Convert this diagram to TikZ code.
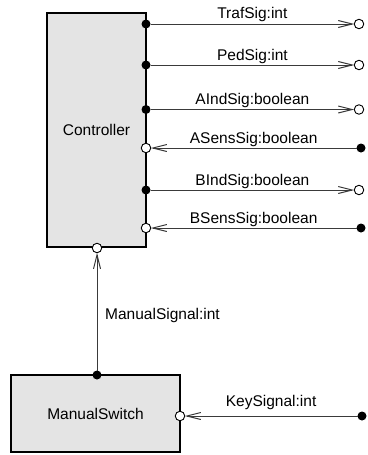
\documentclass[tikz,border=0pt]{standalone}
\usepackage{fontspec}
\setmainfont{Liberation Sans}
\usetikzlibrary{arrows.meta}
\definecolor{boxgray}{HTML}{E4E4E4}
\definecolor{linegray}{HTML}{3A3A3A}
\begin{document}
\begin{tikzpicture}[x=1pt,y=-1pt,
  block/.style={draw=black, line width=2.6pt, fill=boxgray, inner sep=0pt,
    font=\fontsize{15.5}{18}\selectfont},
  inport/.style={circle, draw=black, fill=white, line width=0.9pt,
    minimum size=9.5pt, inner sep=0pt, outer sep=0pt},
  outport/.style={circle, fill=black, minimum size=9pt, inner sep=0pt, outer sep=0pt},
  sig/.style={draw=linegray, line width=1pt},
  flow/.style={sig, -{Straight Barb[length=14pt,width=7pt]}},
  lbl/.style={font=\fontsize{15.5}{18}\selectfont, inner sep=0pt, anchor=base},
]
\useasboundingbox (0,0) rectangle (367,455);

% components
\node[block, minimum width=99pt, minimum height=234pt] (ctrl) at (96.5,130) {Controller};
\node[block, minimum width=169pt, minimum height=77pt] (msw) at (95.5,413.5) {ManualSwitch};

% ports on the controller
\node[outport] (traf)  at (146,24)  {};
\node[outport] (ped)   at (146,65)  {};
\node[outport] (aind)  at (146,109.5) {};
\node[inport]  (asens) at (146,148) {};
\node[outport] (bind)  at (146,190) {};
\node[inport]  (bsens) at (146,228) {};
\node[inport]  (man)   at (97,248)  {};

% ports on the manual switch
\node[outport] (mout)  at (97,375)  {};
\node[inport]  (key)   at (180,416) {};

% external ends
\node[inport]  (trafE)  at (359,24)  {};
\node[inport]  (pedE)   at (359,65)  {};
\node[inport]  (aindE)  at (359,109.5) {};
\node[outport] (asensE) at (361,148) {};
\node[inport]  (bindE)  at (359,190) {};
\node[outport] (bsensE) at (361,228) {};
\node[outport] (keyE)   at (362,416) {};

% signals
\draw[flow] (traf) -- node[lbl, yshift=5pt] {TrafSig:int} (trafE);
\draw[flow] (ped) -- node[lbl, yshift=5pt] {PedSig:int} (pedE);
\draw[flow] (aind) -- node[lbl, yshift=5pt] {AIndSig:boolean} (aindE);
\draw[flow] (asensE) -- node[lbl, yshift=5pt] {ASensSig:boolean} (asens);
\draw[flow] (bind) -- node[lbl, yshift=5pt] {BIndSig:boolean} (bindE);
\draw[flow] (bsensE) -- node[lbl, yshift=5pt] {BSensSig:boolean} (bsens);
\draw[flow] (keyE) -- node[lbl, yshift=10pt] {KeySignal:int} (key);
\draw[flow] (mout) -- (man);
\node[lbl, anchor=base west] (manlbl) at (105,319) {ManualSignal:int};
\end{tikzpicture}
\end{document}
